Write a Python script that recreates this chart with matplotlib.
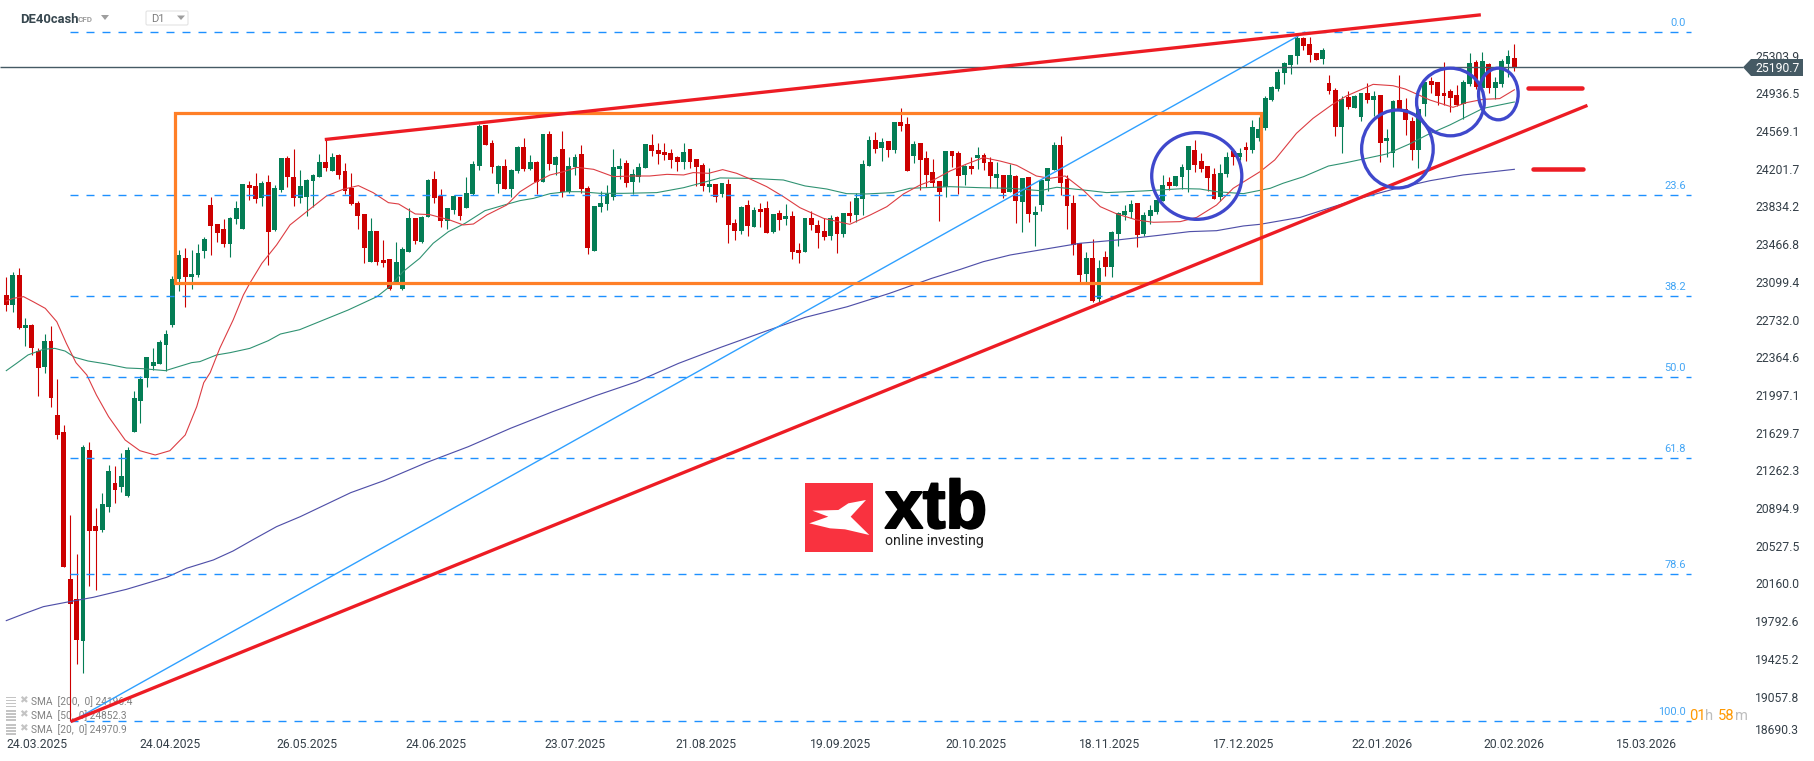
import matplotlib
matplotlib.use('Agg')
import matplotlib.pyplot as plt
import matplotlib.patheffects as pe
from matplotlib.patches import Ellipse, Polygon, Rectangle, FancyBboxPatch
from matplotlib.transforms import Affine2D

plt.rcParams['font.family'] = ['Roboto', 'DejaVu Sans']
plt.rcParams['lines.scale_dashes'] = False

###############################################################################
# Data
opens = [22971,22874,23166,22653,22679,22426,22270,22523,21802,21636,
         20204,20009,19603,21461,20720,20681,20909,21136,21104,21013,
         21640,21942,22166,22279,22299,22487,22676,23127,23332,23147,
         23166,23400,23848,23663,23615,23472,23715,23618,24043,24034,
         23920,24073,23608,23998,24306,24121,23920,23930,24086,24125,
         24267,24183,24336,24180,24014,23868,23761,23296,23595,23313,
         23322,23098,23030,23394,23722,23488,23735,24102,23936,23696,
         23800,23926,23819,23956,24228,24628,24453,24053,24228,24008,
         24180,24414,24199,24267,24073,24540,24238,24394,23975,24215,
         24345,24014,23400,23829,23858,23926,24199,24258,24073,24125,
         24209,24433,24384,24365,24355,24316,24267,24394,24297,24238,
         24024,24053,23956,24053,23673,23595,23848,23634,23809,23819,
         23585,23770,23712,23741,23410,23390,23722,23654,23595,23546,
         23732,23566,23770,23751,23907,24228,24482,24404,24472,24384,
         24657,24638,24326,24453,24306,24170,24082,24024,24375,24355,
         24141,24228,24306,24336,24267,24112,24141,23975,24131,23878,
         24121,23751,23848,24086,24189,24433,24102,23868,23478,23176,
         23332,22933,23342,23244,23566,23751,23780,23868,23566,23741,
         23780,23887,24073,24034,24121,24189,24384,24277,24228,24151,
         23926,24151,24375,24316,24414,24384,24501,24599,24872,24979,
         25135,25213,25300,25476,25417,25329,25271,25037,24969,24608,
         24901,24794,24706,24940,24871,24920,24472,24355,24871,24784,
         24667,24384,24832,25057,25047,24940,24959,24920,24832,25027,
         25242,24988,25222,24988,25027,25222,25281]
closes = [22874,23166,22646,22679,22458,22263,22523,21971,21607,20324,
          19964,19610,21487,20675,20675,20935,21256,21074,21208,21461,
          21968,22153,22367,22318,22513,22591,23127,23361,23150,23176,
          23381,23517,23647,23579,23472,23722,23819,24053,24017,23910,
          24063,23589,24014,24306,24125,23920,24034,24092,24141,24267,
          24209,24316,24144,23988,23858,23745,23433,23595,23296,23287,
          23033,23293,23420,23722,23501,23732,24092,23920,23696,23819,
          23936,23741,23965,24248,24618,24433,24219,24228,24004,24189,
          24414,24199,24267,24073,24540,24245,24316,23975,24228,24316,
          24004,23429,23839,23868,23956,24219,24228,24063,24151,24219,
          24443,24375,24345,24339,24287,24267,24365,24267,24219,24034,
          24053,23926,24063,23654,23595,23829,23644,23800,23780,23576,
          23761,23702,23741,23390,23381,23722,23654,23576,23537,23722,
          23566,23770,23741,23917,24248,24482,24394,24462,24384,24657,
          24618,24180,24443,24287,24141,24063,23975,24375,24326,24131,
          24228,24199,24336,24258,24131,24151,23965,24141,23887,24112,
          23761,23780,24092,24209,24433,24063,23839,23459,23166,23332,
          22913,23235,23244,23585,23767,23790,23858,23556,23751,23800,
          23897,24043,24034,24131,24219,24423,24238,24199,24112,23907,
          24160,24316,24316,24355,24384,24608,24589,24891,24999,25145,
          25232,25310,25476,25398,25313,25261,25359,24959,24608,24881,
          24803,24910,24940,24871,24910,24452,24501,24862,24774,24677,
          24384,24784,25047,25018,24910,24910,24891,24823,25047,25232,
          24998,25251,24988,25047,25251,25300,25193]
highs = [23143,23192,23231,22744,22689,22452,22588,22669,22149,21701,
         20828,20444,21506,21539,20892,21039,21311,21305,21428,21487,
         22033,22185,22367,22452,22533,22630,23156,23410,23426,23410,
         23468,23540,23923,23663,23709,23732,23887,24053,24082,24157,
         24082,24141,24043,24306,24326,24391,24189,24102,24151,24342,
         24482,24355,24346,24254,24157,23887,23761,23722,23595,23507,
         23322,23488,23439,23816,23722,23741,24102,24180,24004,23819,
         23946,23926,24121,24277,24634,24628,24482,24238,24297,24199,
         24423,24501,24336,24277,24540,24569,24326,24569,24313,24342,
         24433,24034,23839,23985,24043,24391,24306,24287,24199,24258,
         24443,24540,24453,24453,24394,24326,24453,24394,24297,24258,
         24209,24053,24063,24102,23712,23839,23897,23829,23868,23887,
         23761,23800,23858,23790,23478,23722,23790,23702,23722,23751,
         23741,23770,23887,23965,24287,24521,24560,24501,24472,24657,
         24794,24706,24472,24453,24375,24293,24082,24375,24375,24375,
         24238,24313,24414,24352,24313,24267,24141,24248,24141,24112,
         24121,23839,24092,24209,24462,24521,24141,23946,23478,23390,
         23517,23313,23400,23595,23780,23848,23897,23868,23780,23848,
         23956,24141,24118,24131,24248,24423,24482,24355,24228,24209,
         24248,24365,24384,24404,24462,24677,24706,24911,25008,25174,
         25242,25310,25495,25485,25482,25329,25378,25115,24988,24907,
         24959,24920,24940,25034,24959,24920,24589,24871,25115,24888,
         24706,24784,25047,25096,25047,25238,24979,25018,25066,25329,
         25261,25336,25232,25096,25271,25359,25417]
lows = [22819,22809,22637,22474,22387,21987,22214,21883,21568,20324,
        18820,19376,19291,20139,20100,20665,20860,20941,21055,21006,
        21640,21727,22078,22240,22296,22234,22663,23013,22858,23030,
        23147,23335,23361,23488,23442,23345,23663,23618,23900,23871,
        23842,23267,23595,23978,24027,23842,23871,23744,23826,24125,
        24180,24183,24105,23956,23845,23615,23287,23296,23264,23248,
        23017,23098,23020,23394,23468,23478,23735,23871,23637,23615,
        23761,23702,23819,23946,24189,24433,24164,23965,24001,23930,
        24164,24180,24189,23952,24073,24189,24141,23926,23965,24141,
        23965,23371,23400,23780,23800,23897,24102,24024,23956,24073,
        24209,24326,24248,24287,24209,24180,24199,24209,24034,23985,
        23975,23878,23926,23478,23507,23566,23546,23634,23634,23576,
        23576,23605,23654,23322,23283,23390,23605,23429,23507,23507,
        23381,23537,23683,23683,23751,24228,24355,24277,24316,24355,
        24569,24180,24258,23995,24024,24024,23693,23926,24219,23956,
        24043,24151,24199,24189,24014,24014,23917,23975,23673,23585,
        23683,23449,23790,23985,24189,23946,23615,23361,23098,23098,
        22903,22903,23157,23147,23449,23702,23722,23439,23546,23663,
        23761,23887,23995,24034,24004,23975,24170,24170,23985,23907,
        23887,24121,24238,24287,24277,24355,24472,24579,24865,24960,
        25027,25125,25222,25359,25245,25261,25222,24930,24521,24355,
        24784,24790,24667,24839,24716,24267,24316,24219,24774,24530,
        24287,24209,24716,24940,24823,24823,24755,24813,24686,25008,
        24979,24979,24940,24881,24998,25099,25154]

sma20_x = [0,1.1,2.7,4.2,6.1,7.9,9.4,10.9,12.6,14.1,16,18.6,20.9,23.3,25.6,28,29.8,30.9,31.9,33.4,35.5,37.1,
           38.1,40,42.3,44.4,47,50.1,52.7,55.1,57.4,59.8,61.4,64,66.3,69.4,71.5,73.1,75.2,78.3,80.4,82.5,85.1,
           87.2,89.3,91.9,95,98.1,100.7,103.4,106,107.5,109.9,112.1,114.3,116.4,119,121.6,124.2,127.9,132,
           135.2,137.8,140.4,143,145.1,147.7,150.3,152.9,155.5,158.1,161.2,163.3,165.7,168.5,171.2,173.8,
           176.9,179.5,183.7,186.3,189.4,192,196.2,198.5,201.9,204.5,207.4,209.7,213.9,217,218.9,220.7,222.8,
           226.4,228.5,231.1,233.7,236]
sma20_y = [22913,22939,22955,22906,22841,22711,22500,22312,22192,21997,21786,21558,21454,21412,21454,21607,21883,22117,22214,22451,22728,22971,
           23085,23280,23459,23654,23783,23936,24001,24037,23969,23871,23858,23761,23754,23702,23654,23663,23751,23848,23978,24060,24141,
           24173,24215,24196,24125,24131,24131,24147,24141,24164,24157,24193,24157,24102,24027,23930,23822,23718,23660,
           23751,23832,23956,24043,24092,24180,24248,24310,24277,24235,24131,24108,24131,23995,23832,23761,
           23702,23680,23686,23728,23848,24011,24173,24287,24547,24693,24823,24910,25024,25011,24979,24930,24871,
           24800,24846,24878,24885,24971]
sma50_x = [0,1.6,3.4,5.8,7.6,9.2,10.7,12.8,15.7,18.8,21.4,24.9,29,30.3,32.9,35,38.1,41,42.9,45.9,
           53.5,58,60,62.1,64.7,66.8,69.2,71.8,74.9,78.3,80.4,82.5,85.1,87.7,89.8,92.9,96.6,101.8,106,108.6,
           111.7,116.4,121.6,125,128.4,131.5,134.6,138.8,141.4,147.7,152.4,157.1,161.8,164.4,168.5,172.2,
           177.9,184.2,186.8,189.4,193.6,197.8,199.8,203,206.9,209.7,216,219.6,222.3,225.9,228.5,231.1,236]
sma50_y = [22234,22305,22387,22442,22451,22425,22364,22328,22299,22260,22253,22234,22312,22322,22387,22409,22451,22526,22591,22633,
           22825,22955,23053,23199,23329,23475,23589,23670,23793,23855,23891,23913,23959,23978,23978,23962,23962,23969,24017,24060,
           24112,24108,24092,24034,24004,23959,23956,23969,24011,24027,24017,24011,23988,24021,23995,23969,
           23985,24008,24004,23978,23959,24011,24060,24124,24228,24261,24345,24443,24530,24628,24709,24790,24852]
sma200_x = [0,2.7,5.8,9.4,13.6,18.8,25.1,28.2,32.4,35.5,38.7,42.3,46,53.9,59.1,65.7,72.3,78.9,85.5,92.1,98.7,
            105.2,111.8,119.1,125,131.6,138.2,144.8,149.3,152.9,157.1,163.3,168,173.8,180,185.2,189.4,193.6,
            196.2,202.5,211.8,217.6,222.8,228,232.7,236]
sma200_y = [19798,19863,19934,19977,20025,20103,20220,20308,20389,20477,20590,20714,20811,21045,21162,21337,21493,21672,21834,21987,22127,
            22305,22461,22624,22753,22857,22987,23133,23221,23296,23361,23426,23475,23507,23550,23589,23598,23644,
            23660,23728,23913,24011,24085,24141,24173,24196]

fib_labels = ['0.0', '23.6', '38.2', '50.0', '61.8', '78.6', '100.0']
fib_prices = [25531, 23946, 22966, 22174, 21382, 20254, 18817]

y_ticks = [25303.9, 24936.5, 24569.1, 24201.7, 23834.2, 23466.8, 23099.4, 22732.0, 22364.6, 21997.1,
           21629.7, 21262.3, 20894.9, 20527.5, 20160.0, 19792.6, 19425.2, 19057.8]
y_bottom_label = '18690.3'
date_pos = [4.8, 25.6, 47, 67.2, 89, 109.5, 130.6, 151.7, 172.7, 193.7, 215.3, 236, 256.7]
date_labels = ['24.03.2025', '24.04.2025', '26.05.2025', '24.06.2025', '23.07.2025', '21.08.2025', '19.09.2025',
               '20.10.2025', '18.11.2025', '17.12.2025', '22.01.2026', '20.02.2026', '15.03.2026']
last_price = 25190.7
legend_texts = ['SMA  [200,  0] 24196.4', 'SMA  [50,  0] 24852.3', 'SMA  [20,  0] 24970.9']

###############################################################################
# Figure
W, H = 1815, 761
fig = plt.figure(figsize=(W / 100, H / 100), dpi=100, facecolor='white')
ax = fig.add_axes([0, 0, 1, 1])
ax.set_xlim(-0.986, 283.05)
ax.set_ylim(18430, 25846)
for s in ax.spines.values():
    s.set_visible(False)
pix = Affine2D().scale(1 / W, -1 / H).translate(0, 1) + fig.transFigure

# Axes labels sit inside the frame
ax.yaxis.tick_right()
ax.set_yticks(y_ticks)
ax.set_yticklabels(['%.1f' % v for v in y_ticks])
ax.set_xticks(date_pos)
ax.set_xticklabels(date_labels)
ax.tick_params(axis='y', length=0, pad=-60 * 0.72, labelsize=8.7, labelcolor='#343f48')
ax.tick_params(axis='x', length=0, pad=-23 * 0.72, labelsize=8.7, labelcolor='#343f48')
ax.text(1755, 730.5, y_bottom_label, transform=pix, fontsize=8.7, color='#343f48', va='center')

# Candles
green = '#047d55'
red = '#cc0000'
idx = list(range(len(opens)))
cols = [red if c < o else green for o, c in zip(opens, closes)]
ax.vlines(idx, lows, highs, colors=cols, lw=1.1 * 0.72, zorder=2)
ax.bar(idx, [abs(c - o) for o, c in zip(opens, closes)], bottom=[min(o, c) for o, c in zip(opens, closes)],
       width=0.76, color=cols, lw=0, zorder=2)

# Moving averages
ax.plot(sma200_x, sma200_y, color='#4f4fa8', lw=1.15 * 0.72, zorder=3)
ax.plot(sma50_x, sma50_y, color='#2f9272', lw=1.1 * 0.72, zorder=3)
ax.plot(sma20_x, sma20_y, color='#dc3c42', lw=1.1 * 0.72, zorder=3)

# Fibonacci levels
for lab, p in zip(fib_labels, fib_prices):
    ax.plot([10, 263.6], [p, p], color='#1e90ff', lw=1.0, dashes=(5.76, 5.76), zorder=3)
    ax.annotate(lab, (262.8, p), xytext=(0, 6.5), textcoords='offset points', ha='right', va='center',
                fontsize=7.9, color='#42a5f5')
ax.plot([10.3, 203.2], [fib_prices[-1], fib_prices[0]], color='#2fa0ff', lw=1.0, zorder=4)

# Current price
ax.hlines(last_price, -0.986, 271.8, color='#455a64', lw=1.0, zorder=4)
ax.add_patch(Polygon([(1743, 67.3), (1751, 59), (1803, 59), (1803, 76), (1751, 76)], closed=True,
                     transform=pix, fc='#455a64', ec='none', zorder=8))
ax.text(1755, 68, '%.1f' % last_price, transform=pix, color='white', fontsize=8.7, va='center', zorder=9)

# Drawn objects
ax.add_patch(Rectangle((26.4, 23085), 169.95, 1657, fc='none', ec='#ff7f27', lw=3.2 * 0.72, zorder=5))
ax.plot([10.3, 247.2], [18820, 24813], color='#ed1c24', lw=3.3 * 0.72, zorder=6)
ax.plot([50.1, 230.5], [24488, 25700], color='#ed1c24', lw=3.3 * 0.72, zorder=6)
ax.plot([238.2, 246.6], [24985, 24985], color='#ed1c24', lw=4.5 * 0.72, solid_capstyle='round', zorder=6)
ax.plot([238.9, 246.7], [24195, 24195], color='#ed1c24', lw=4.5 * 0.72, solid_capstyle='round', zorder=6)
for xc, yc, w, h in [(186.3, 24131, 14.1, 845), (217.7, 24394, 11.2, 760),
                     (226, 24852, 10.6, 659), (233.5, 24930, 6.2, 503)]:
    ax.add_patch(Ellipse((xc, yc), w, h, fc='none', ec='#3f48cc', lw=3.3 * 0.72, zorder=7))

# Header
ax.text(20, 19.5, 'DE40cash', transform=pix, fontsize=9.4, fontweight='bold', color='#37474f', va='center')
ax.text(78, 19.5, 'CFD', transform=pix, fontsize=5.8, fontweight='bold', color='#9e9e9e', va='center')
ax.add_patch(Polygon([(101, 15), (109, 15), (105, 20)], transform=pix, fc='#9e9e9e', ec='none'))
ax.add_patch(FancyBboxPatch((146, 11), 42, 14, boxstyle='round,pad=0,rounding_size=1.5', transform=pix,
                            fc='white', ec='#e3e3e3', lw=0.8))
ax.text(151, 19.5, 'D1', transform=pix, fontsize=8, color='#7d7d7d', va='center')
ax.add_patch(Polygon([(177, 15.5), (185, 15.5), (181, 20)], transform=pix, fc='#9e9e9e', ec='none'))

# Indicator legend
for y, txt in zip([701.7, 715.5, 729.5], legend_texts):
    for dy in [-4.5, -1.5, 1.5, 4.5]:
        ax.add_patch(Rectangle((6, y + dy - 0.7), 10, 1.6, transform=pix, fc='#c4c4c4', ec='none', zorder=1))
    ax.text(23.5, y - 1, '\u2716', transform=pix, fontsize=7.5, color='#c4c4c4', ha='center', va='center',
            family='DejaVu Sans', zorder=1)
    ax.text(31, y, txt, transform=pix, fontsize=7.3, color='#808080', va='center', zorder=1)

# Session timer
for x, t, c in [(1689, '01', '#ff9800'), (1705, 'h', '#bdbdbd'), (1718, '58', '#ff9800'), (1735, 'm', '#bdbdbd')]:
    ax.text(x, 716, t, transform=pix, fontsize=10.6, color=c, va='center')

# Logo
ax.add_patch(Rectangle((805, 482.7), 68.3, 69, transform=pix, fc='#f9323f', ec='none', zorder=1))
glyph = [(97, 152), (175, 150), (205, 130), (258, 120), (212, 170), (268, 225), (195, 208), (150, 205),
         (88, 190), (145, 170)]
ax.add_patch(Polygon([(780 + a / 3, 460 + b / 3) for a, b in glyph], transform=pix, fc='white', ec='none', zorder=1))
ax.text(885, 528, 'xtb', transform=pix, fontsize=49, fontweight='bold', color='black', va='baseline',
        family='Liberation Sans', zorder=1,
        path_effects=[pe.withStroke(linewidth=1.5, foreground='black')])
ax.text(885, 541, 'online investing', transform=pix, fontsize=10.2, color='#222222', va='center', zorder=1)

fig.savefig('out.png', dpi=100, facecolor='white')
